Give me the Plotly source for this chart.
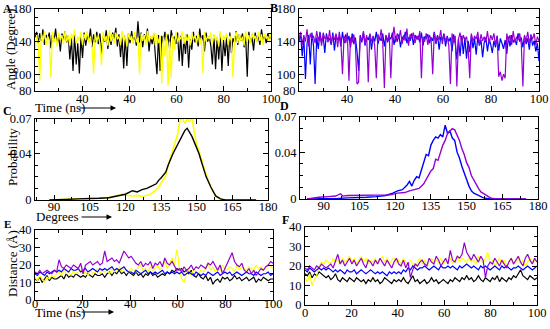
import plotly.graph_objects as go

# ---------------- DATA ----------------
# Panel A (angle time series, 150 samples over 0-100 ns)
a_black = [145,152,138,150,141,155,136,148,143,151,
           132,149,140,156,137,146,128,150,142,153,
           139,147,118,144,104,149,112,138,101,146,
           120,151,135,147,141,156,133,149,139,152,
           137,150,125,146,140,154,131,148,136,151,
           142,157,134,149,121,145,107,148,110,150,
           138,153,140,147,135,165,139,151,133,149,
           141,156,128,146,137,150,122,100,148,104,
           147,138,152,140,149,131,154,143,146,137,
           151,116,147,110,145,125,149,108,143,130,
           152,139,147,134,156,141,148,128,151,140,
           146,135,112,148,106,145,118,150,104,142,
           122,147,110,151,126,144,139,153,136,149,
           141,150,133,147,97,152,138,146,129,151,
           140,148,136,155,142,147,138,150,143,146]
a_yellow = [130,148,138,92,150,140,153,136,147,141,
            96,152,139,146,134,151,142,148,137,153,
            140,147,135,150,143,154,138,146,141,152,
            136,149,142,153,139,146,133,101,150,140,
            148,137,111,152,141,147,135,154,140,149,
            138,151,143,146,136,153,140,148,134,150,
            142,147,137,152,139,145,100,150,141,148,
            136,153,140,146,143,151,135,149,138,147,
            88,145,122,150,86,140,95,148,131,152,
            139,146,143,153,137,149,141,147,135,151,
            142,148,138,150,136,145,101,152,140,147,
            143,151,137,149,141,146,134,153,139,148,
            142,150,136,147,140,96,144,152,138,149,
            141,146,135,153,140,148,137,151,143,147,
            139,152,141,149,136,150,144,146,140,151]
# Panel B
b_blue = [140,150,122,146,94,138,148,112,151,135,
          88,145,131,152,139,147,126,150,141,144,
          136,151,129,148,142,146,134,152,138,149,
          140,147,133,150,137,145,128,104,148,139,
          151,135,146,142,149,130,147,140,152,137,
          145,141,150,134,148,139,146,143,151,136,
          147,140,149,133,146,142,152,138,145,141,
          150,136,148,143,147,139,151,135,146,144,
          149,138,145,141,152,137,148,130,146,142,
          150,134,147,140,145,128,149,138,118,143,
          122,147,125,145,119,141,127,148,132,144,
          124,146,135,142,121,139,145,128,143,137,
          126,141,133,147,129,144,138,131,142,125,
          146,134,148,139,143,136,150,140,145,133,
          147,137,144,130,149,135,141,128,138,116]
b_purple = [142,152,136,148,140,155,134,150,143,147,
            138,153,141,149,135,151,144,146,139,154,
            137,148,142,150,133,152,140,100,147,138,
            151,92,145,139,149,136,88,90,146,141,
            153,137,148,90,150,140,146,135,95,149,
            142,155,138,83,147,141,151,95,144,158,
            139,150,143,154,137,148,141,156,135,149,
            144,151,138,147,142,153,95,146,140,150,
            136,148,143,100,151,139,147,142,154,137,
            149,141,146,135,88,150,138,147,85,143,
            151,137,148,142,146,133,95,150,140,147,
            143,152,136,149,141,146,139,153,137,148,
            142,150,136,147,97,103,92,100,95,150,
            141,148,136,153,139,146,142,150,137,85,
            148,140,152,138,147,143,150,136,146,141]

# Panel C (probability distributions)
c_black_deg = [88,90,95,100,105,109,113,117,120,123,125,127,129,131,133,134,135,137,138,140,
               141,142,143,144,145,146,147,148,149,150,151,152,153,154,156,158,160,162,165,170,175]
c_black_p = [0,0,0.0005,0.001,0.001,0.0015,0.002,0.004,0.005,0.008,0.007,0.009,0.01,0.012,0.014,
             0.017,0.019,0.024,0.03,0.04,0.044,0.049,0.053,0.057,0.06,0.062,0.059,0.055,0.05,0.045,
             0.04,0.033,0.026,0.02,0.011,0.0035,0.001,0,0,0,0]
c_yellow_deg = [88,90,95,100,105,109,113,117,119,121,123,125,127,130,132,134,135,137,138,140,
                141,142,143,144,145,146,147,148,149,150,151,152,153,154,156,158,160,162,165,170,175]
c_yellow_p = [0,0,0.0005,0.001,0.0015,0.002,0.002,0.004,0.005,0.004,0.0035,0.004,0.003,0.0045,0.007,
              0.011,0.014,0.021,0.03,0.043,0.05,0.057,0.069,0.071,0.066,0.07,0.068,0.072,0.058,0.048,
              0.042,0.035,0.027,0.022,0.011,0.003,0.001,0,0,0,0]
# Panel D
d_blue_deg = [83,88,92,96,100,104,108,112,116,119,121,123,125,126,127,128,129,130,131,132,
              133,134,135,136,137,138,139,140,141,142,143,144,145,146,147,148,149,150,151,152,
              153,155,157,160,165,175]
d_blue_p = [0,0,0.0005,0.0005,0.001,0.001,0.0015,0.002,0.003,0.005,0.007,0.008,0.012,0.015,0.011,
            0.016,0.019,0.018,0.025,0.031,0.038,0.037,0.046,0.05,0.053,0.052,0.055,0.053,0.063,0.056,
            0.058,0.052,0.05,0.04,0.035,0.028,0.022,0.017,0.011,0.007,0.005,0.003,0.001,0,0,0]
d_purple_deg = [83,88,92,95,97,98,100,103,106,110,114,118,121,124,126,128,130,132,134,135,
                136,137,138,139,140,141,142,143,144,145,146,147,148,149,150,151,152,153,154,155,
                156,158,160,162,165,175]
d_purple_p = [0,0.0015,0.002,0.0025,0.0045,0.0025,0.003,0.003,0.0035,0.003,0.003,0.0035,0.005,0.0055,
              0.007,0.008,0.009,0.013,0.02,0.024,0.026,0.034,0.033,0.04,0.046,0.05,0.056,0.058,0.06,
              0.059,0.055,0.05,0.043,0.038,0.031,0.027,0.02,0.016,0.012,0.009,0.006,0.0035,0.001,0,0,0]

# Panel E (distance time series, 100 samples)
e_black = [12,11,13,10,12,14,11,13,12,12, 13,14,12,15,13,14,13,15,14,13,
           14,13,15,14,13,15,14,14,15,13, 15,16,14,16,15,17,15,16,14,16,
           15,14,16,14,15,13,15,14,16,14, 15,13,14,15,14,16,15,17,16,18,
           17,18,16,17,15,17,14,13,15,13, 12,14,11,13,9,11,12,10,13,12,
           13,11,12,14,12,13,11,12,13,11, 12,13,10,12,11,13,12,11,12,12]
e_yellow = [13,11,14,12,10,13,12,14,13,15, 16,14,17,15,16,14,17,15,16,17,
            15,16,14,17,15,16,18,15,17,16, 17,15,18,16,17,19,16,18,17,16,
            18,17,16,19,20,17,18,16,19,17, 18,20,17,19,22,18,21,24,20,29,
            19,12,10,15,17,14,18,16,15,17, 16,18,21,17,19,16,18,17,20,18,
            17,19,18,16,20,17,19,18,17,19, 18,17,20,18,19,17,18,20,19,18]
e_blue = [15,14,16,15,14,16,15,16,17,16, 17,16,18,17,16,18,17,17,18,16,
          17,18,16,17,18,17,16,18,17,18, 17,18,19,17,18,17,18,19,17,16,
          16,15,17,16,15,16,17,15,16,15, 16,15,16,17,15,16,15,16,15,16,
          15,16,14,15,16,15,14,16,15,14, 15,14,16,15,14,15,16,14,15,16,
          15,16,14,15,16,15,14,15,16,15, 15,14,16,15,14,15,15,16,14,15]
e_purple = [16,15,17,15,16,17,16,15,17,16, 23,19,18,20,19,18,20,19,18,21,
            15,20,21,22,20,21,22,20,21,28, 22,23,24,22,23,21,25,28,26,24,
            25,23,21,20,22,19,21,20,22,18, 21,20,22,19,24,21,20,22,19,17,
            18,16,19,17,18,20,17,19,18,20, 19,18,21,20,22,19,17,20,15,18,
            21,24,27,22,20,19,21,17,16,18, 15,17,14,16,18,17,19,20,22,21]
# Panel F
f_black = [16,15,17,14,16,15,17,16,15,14, 15,13,14,16,13,12,14,13,12,14,
           13,12,14,13,12,13,11,13,12,14, 12,13,11,12,14,13,12,11,13,12,
           13,12,14,12,11,13,15,12,13,11, 12,13,11,12,14,12,13,11,12,13,
           12,11,13,12,14,13,12,14,13,15, 13,14,12,13,15,13,12,14,13,12,
           14,13,15,12,14,13,12,14,13,15, 14,16,18,15,14,13,15,14,13,14]
f_yellow = [14,12,16,10,13,15,20,22,21,23, 22,21,24,22,23,21,24,22,23,25,
            22,24,21,23,25,22,24,21,23,22, 24,21,23,25,22,24,21,23,24,22,
            23,21,24,22,20,23,21,19,22,24, 21,23,20,22,24,21,23,22,24,21,
            23,22,24,21,23,25,22,24,23,22, 24,22,23,21,25,23,22,24,27,21,
            23,20,22,24,21,23,20,22,24,21, 22,24,21,23,20,22,24,21,23,22]
f_blue = [18,17,19,18,17,18,19,18,19,18, 19,18,17,18,17,18,17,16,18,17,
          17,18,16,17,18,17,16,17,18,17, 16,17,16,17,16,15,17,16,17,16,
          17,16,18,17,19,18,20,19,18,19, 19,20,19,18,19,20,19,18,20,19,
          19,20,19,20,19,18,20,19,20,21, 20,19,20,19,18,20,19,20,19,18,
          19,20,19,18,20,19,20,19,18,19, 19,20,19,18,19,20,19,18,19,20]
f_purple = [19,18,20,19,18,20,19,21,20,19, 20,21,19,22,26,21,23,20,22,24,
            21,23,20,22,24,21,19,23,22,20, 23,21,24,22,20,23,21,19,22,24,
            21,20,23,19,22,14,18,21,20,22, 23,21,20,24,22,21,25,23,20,22,
            24,21,28,23,22,25,24,26,32,27, 25,23,26,24,22,25,23,14,20,22,
            21,24,22,20,23,21,19,22,24,21, 23,25,22,20,24,26,23,21,24,22]

# tick labels
ab_xticks = [20, 40, 60, 80, 100]
ab_xlabels = ["40", "40", "60", "80", "100"]
ab_yticks = [80, 100, 120, 140, 160, 180]
ab_ylabels = ["80", "100", "", "140", "", "180"]
cd_xticks = [90, 105, 120, 135, 150, 165, 180]
cd_yticks = [0, 0.04, 0.07]
cd_ylabels = ["0", "0.04", "0.07"]
ef_xticks = [0, 20, 40, 60, 80, 100]
ef_yticks = [0, 10, 20, 30, 40]

# ---------------- STYLE ----------------
BLACK = "#000000"
YELLOW = "#FFFF00"
BLUE = "#0000FF"
PURPLE = "#9400D3"
SERIF = "Liberation Serif, DejaVu Serif, serif"
W, H = 550, 329

t_ab = [i * 100 / (len(a_black) - 1) for i in range(len(a_black))]
t_ef = [i * 100 / (len(e_black) - 1) for i in range(len(e_black))]

fig = go.Figure()

def add(x, y, color, n, width=1):
    sfx = "" if n == 1 else str(n)
    fig.add_trace(go.Scatter(x=x, y=y, mode="lines", line=dict(color=color, width=width),
                             xaxis="x" + sfx, yaxis="y" + sfx, showlegend=False,
                             hoverinfo="skip"))

add(t_ab, a_black, BLACK, 1, 1.2)
add(t_ab, a_yellow, YELLOW, 1, 1.3)
add(t_ab, b_blue, BLUE, 2, 1.2)
add(t_ab, b_purple, PURPLE, 2, 1.2)
add(c_yellow_deg, c_yellow_p, YELLOW, 3, 1.6)
add(c_black_deg, c_black_p, BLACK, 3, 1.4)
add(d_blue_deg, d_blue_p, BLUE, 4, 1.4)
add(d_purple_deg, d_purple_p, PURPLE, 4, 1.4)
for n, s in ((5, (e_black, e_yellow, e_blue, e_purple)), (6, (f_black, f_yellow, f_blue, f_purple))):
    for ser, col in zip(s, (BLACK, YELLOW, BLUE, PURPLE)):
        add(t_ef, ser, col, n, 1.2)

def px(x0, x1):
    return [x0 / W, x1 / W]

def py(top, bottom):
    return [1 - bottom / H, 1 - top / H]

def axis(domain, anchor, rng, tv, tt, mdt, m0, standoff):
    return dict(domain=domain, anchor=anchor, range=rng, tickmode="array", tickvals=tv, ticktext=tt,
                ticks="inside", ticklen=5, tickwidth=1, tickcolor="black",
                showline=True, linecolor="black", linewidth=1, mirror="allticks",
                showgrid=False, zeroline=False, automargin=False,
                ticklabelstandoff=standoff,
                tickfont=dict(family=SERIF, size=12.5, color="black"),
                minor=dict(ticks="inside", ticklen=3, tickwidth=1, tickcolor="black",
                           dtick=mdt, tick0=m0, showgrid=False))

lay = {}
panels = [
    (1, px(35, 271), py(9, 90.5), [0, 100], ab_xticks, ab_xlabels, 10, [80, 180], ab_yticks, ab_ylabels, 10, 80, -4),
    (2, px(299, 539), py(9, 90.5), [0, 100], ab_xticks, ab_xlabels, 10, [80, 180], ab_yticks, ab_ylabels, 10, 80, -4),
    (3, px(35, 268), py(119, 200), [82, 180], cd_xticks, [str(v) for v in cd_xticks], 7.5, [0, 0.07], cd_yticks, cd_ylabels, 0.01, 0, -5),
    (4, px(300, 538), py(117, 199), [80, 180], cd_xticks, [str(v) for v in cd_xticks], 7.5, [0, 0.07], cd_yticks, cd_ylabels, 0.01, 0, -5),
    (5, px(35, 273), py(230, 300), [0, 100], ef_xticks, [str(v) for v in ef_xticks], 10, [0, 40], ef_yticks, [str(v) for v in ef_yticks], 5, 0, -8),
    (6, px(305, 537), py(227, 305), [0, 100], ef_xticks, [str(v) for v in ef_xticks], 10, [0, 40], ef_yticks, [str(v) for v in ef_yticks], 5, 0, -4),
]
for n, xd, yd, xr, xtv, xtt, xm, yr, ytv, ytt, ym, ym0, xso in panels:
    sfx = "" if n == 1 else str(n)
    lay["xaxis" + sfx] = axis(xd, "y" + sfx, xr, xtv, xtt, xm, 0, xso)
    lay["yaxis" + sfx] = axis(yd, "x" + sfx, yr, ytv, ytt, ym, ym0, 0)

annotations = []

def txt(x, y, s, size=13, angle=0, xanchor="center"):
    annotations.append(dict(x=x / W, y=1 - y / H, xref="paper", yref="paper", text=s, showarrow=False,
                            textangle=angle, xanchor=xanchor, yanchor="middle",
                            font=dict(family=SERIF, size=size, color="black")))

def arrow(x0, x1, y):
    annotations.append(dict(x=x1 / W, y=1 - y / H, xref="paper", yref="paper", text="",
                            showarrow=True, ax=x0 - x1, ay=0, arrowhead=2, arrowsize=1,
                            arrowwidth=1.1, arrowcolor="black"))

# panel letters
txt(7, 9, "<b>A</b>", 12)
txt(274, 8, "<b>B</b>", 12)
txt(7, 111, "<b>C</b>", 12)
txt(284, 106, "<b>D</b>", 12)
txt(7, 224, "<b>E</b>", 11)
txt(285, 220, "<b>F</b>", 12)
# axis titles
txt(11, 50, "Angle (Degree)", 13, -90)
txt(12, 157, "Probability", 13, -90)
txt(12, 264, "Distance (Å)", 13, -90)
txt(33, 108, "Time (ns)", 13, xanchor="left")
arrow(78, 116, 108)
txt(34, 217, "Degrees", 13, xanchor="left")
arrow(80, 112, 217)
txt(33, 312, "Time (ns)", 13, xanchor="left")
arrow(80, 114, 312)

fig.update_layout(template="none", width=W, height=H, margin=dict(l=0, r=0, t=0, b=0, pad=0),
                  paper_bgcolor="white", plot_bgcolor="white",
                  font=dict(family=SERIF, color="black"),
                  annotations=annotations, **lay)

fig.write_html("out.html", config={"displayModeBar": False},
               post_script="document.body.style.margin='0px';document.body.style.overflow='hidden';")
